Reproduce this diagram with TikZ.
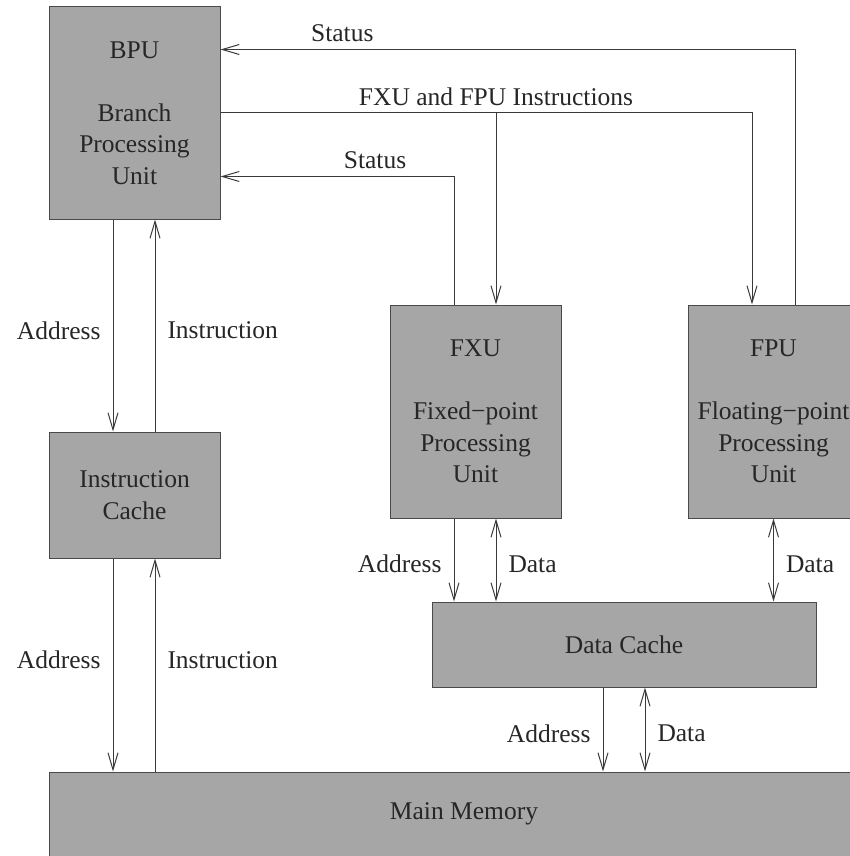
\documentclass[tikz,border=0pt]{standalone}
\usepackage{fontspec}
\setmainfont{Liberation Serif}
\usetikzlibrary{arrows.meta}
\definecolor{boxfill}{HTML}{A6A6A6}
\definecolor{boxline}{HTML}{4A4A4A}
\definecolor{wire}{HTML}{3A3A3A}
\definecolor{ink}{HTML}{262626}
\begin{document}
\begin{tikzpicture}[x=1pt,y=-1pt,
  every node/.style={text=ink, font=\fontsize{25.5}{31.5}\selectfont},
  unit/.style={draw=boxline, line width=1pt, fill=boxfill, align=center,
               minimum width=171pt, inner sep=0pt},
  wiring/.style={draw=wire, line width=1pt},
  >={Straight Barb[length=17pt,width=10pt]},
  lbl/.style={inner sep=0pt}]
\clip (0,0) rectangle (850,856);

% functional units
\node[unit, minimum height=212pt] (bpu) at (134.5,113)
  {BPU\\[31.5pt]Branch\\Processing\\Unit};
\node[unit, minimum height=126pt] (ic) at (134.5,495) {Instruction\\Cache};
\node[unit, minimum height=213pt] (fxu) at (475.5,411.5)
  {FXU\\[31.5pt]Fixed−point\\Processing\\Unit};
\node[unit, minimum height=213pt] (fpu) at (773.5,411.5)
  {FPU\\[31.5pt]Floating−point\\Processing\\Unit};
\node[unit, minimum width=384pt, minimum height=85pt] (dc) at (624,644.5) {Data Cache};
\node[unit, minimum width=830pt, minimum height=84pt] (mm) at (464,814) {\raisebox{-3pt}{Main Memory}};

% ports on the top edges of the execution units
\coordinate (fxuS) at ([xshift=-21.5pt]fxu.north);
\coordinate (fxuI) at ([xshift=20.5pt]fxu.north);
\coordinate (fpuI) at ([xshift=-21.5pt]fpu.north);
\coordinate (fpuS) at ([xshift=21.5pt]fpu.north);
\coordinate (bpuS1) at ([yshift=-43pt]bpu.north east);
\coordinate (bpuI) at ([yshift=-106pt]bpu.north east);
\coordinate (bpuS2) at ([yshift=-170pt]bpu.north east);

% status and instruction buses
\draw[wiring,->] (fpuS) |- node[lbl, pos=0.894, above=7pt] {Status} (bpuS1);
\draw[wiring,->] (fxuS) |- node[lbl, pos=0.669, above=7pt] {Status} (bpuS2);
\draw[wiring,->] (bpuI) -| (fpuI);
\draw[wiring,->] (bpuI -| fxuI) -- (fxuI);
\node[lbl, anchor=south] (ilabel) at ([yshift=7pt]bpuI -| fxuI) {FXU and FPU Instructions};

% BPU <-> instruction cache
\draw[wiring,->] ([xshift=-21.5pt]bpu.south) -- node[lbl, left=12pt, yshift=-5pt] {Address} ([xshift=-21.5pt]ic.north);
\draw[wiring,->] ([xshift=20.5pt]ic.north) -- node[lbl, right=12pt, yshift=-5pt] {Instruction} ([xshift=20.5pt]bpu.south);

% instruction cache <-> main memory
\draw[wiring,->] ([xshift=-21.5pt]ic.south) -- node[lbl, left=12pt, yshift=5pt] {Address} ([xshift=-21.5pt]ic.south |- mm.north);
\draw[wiring,->] ([xshift=20.5pt]ic.south |- mm.north) -- node[lbl, right=12pt, yshift=5pt] {Instruction} ([xshift=20.5pt]ic.south);

% execution units <-> data cache
\draw[wiring,->] ([xshift=-21.5pt]fxu.south) -- node[lbl, left=12pt, yshift=-4pt] {Address} ([xshift=-21.5pt]fxu.south |- dc.north);
\draw[wiring,<->] ([xshift=20.5pt]fxu.south) -- node[lbl, right=12pt, yshift=-4pt] {Data} ([xshift=20.5pt]fxu.south |- dc.north);
\draw[wiring,<->] (fpu.south) -- node[lbl, right=12pt, yshift=-4pt] {Data} (fpu.south |- dc.north);

% data cache <-> main memory
\draw[wiring,->] ([xshift=-21pt]dc.south) -- node[lbl, left=12pt, yshift=-4pt] {Address} ([xshift=-21pt]dc.south |- mm.north);
\draw[wiring,<->] ([xshift=21pt]dc.south) -- node[lbl, right=12pt, yshift=-4pt] {Data} ([xshift=21pt]dc.south |- mm.north);
\end{tikzpicture}
\end{document}
